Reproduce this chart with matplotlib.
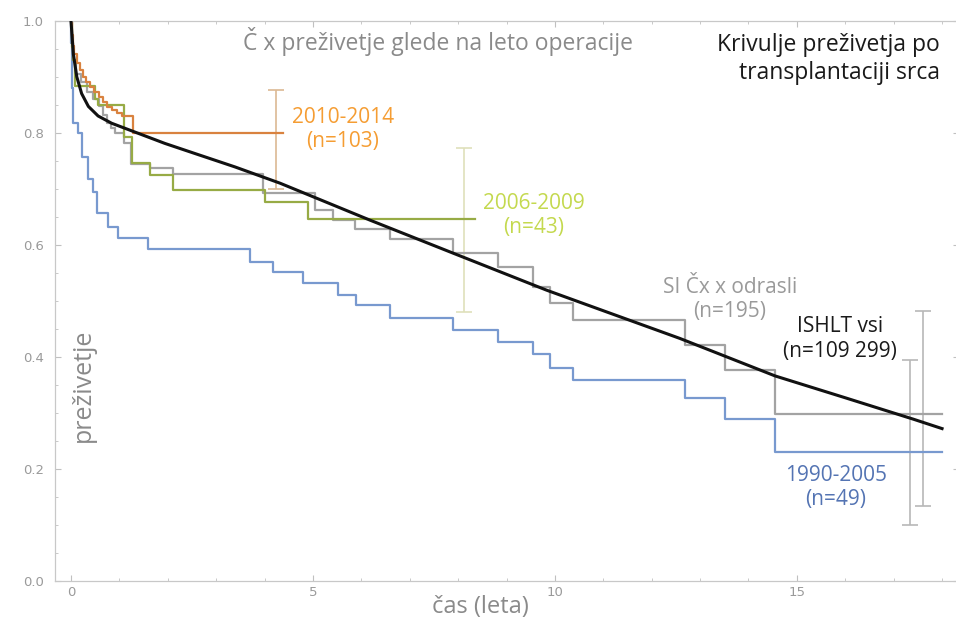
import matplotlib
matplotlib.use("Agg")
import matplotlib.pyplot as plt
from matplotlib.ticker import MultipleLocator

plt.rcParams['font.family'] = ['Open Sans', 'DejaVu Sans']

# ==============================
# Data
# ==============================
# 2010-2014 (n=103)
t_orange = [0, 0.02, 0.04, 0.07, 0.12, 0.18, 0.25, 0.32, 0.40, 0.48, 0.57, 0.66, 0.75, 0.85, 0.95, 1.05, 1.28]
v_orange = [1.0, 0.975, 0.955, 0.94, 0.925, 0.912, 0.90, 0.891, 0.882, 0.873, 0.864, 0.855, 0.846, 0.840, 0.835, 0.83, 0.80]
end_orange = 4.38

# 2006-2009 (n=43)
t_green = [0, 0.02, 0.05, 0.09, 0.50, 0.55, 1.10, 1.26, 1.63, 2.11, 4.01, 4.90]
v_green = [1.0, 0.953, 0.93, 0.884, 0.86, 0.85, 0.793, 0.746, 0.725, 0.698, 0.677, 0.646]
end_green = 8.35

# SI Cx x odrasli (n=195)
t_grey = [0, 0.02, 0.05, 0.10, 0.20, 0.33, 0.45, 0.57, 0.66, 0.74, 0.83, 0.92, 1.09, 1.24, 1.63, 2.11,
          3.97, 5.04, 5.41, 5.87, 6.59, 7.90, 8.83, 9.55, 9.90, 10.38, 12.69, 13.51, 14.55]
v_grey = [1.0, 0.96, 0.93, 0.905, 0.89, 0.873, 0.86, 0.847, 0.832, 0.817, 0.808, 0.799, 0.781, 0.745, 0.737, 0.726,
          0.693, 0.662, 0.644, 0.628, 0.610, 0.585, 0.561, 0.525, 0.496, 0.466, 0.421, 0.376, 0.298]
end_grey = 18.0

# 1990-2005 (n=49)
t_blue = [0, 0.01, 0.02, 0.03, 0.04, 0.05, 0.15, 0.22, 0.36, 0.45, 0.53, 0.77, 0.98, 1.60, 3.70, 4.18,
          4.80, 5.52, 5.89, 6.59, 7.90, 8.83, 9.55, 9.90, 10.38, 12.69, 13.51, 14.55]
v_blue = [1.0, 0.96, 0.92, 0.88, 0.84, 0.817, 0.80, 0.757, 0.717, 0.695, 0.656, 0.632, 0.613, 0.592, 0.570, 0.552,
          0.531, 0.510, 0.493, 0.469, 0.448, 0.427, 0.405, 0.381, 0.359, 0.326, 0.289, 0.231]
end_blue = 18.0

# ISHLT vsi (n=109 299)
t_ishlt = [0, 0.05, 0.12, 0.22, 0.36, 0.56, 0.84, 1.39, 1.94, 2.56, 3.39, 4.32, 6.18, 7.90, 9.83, 11.14,
           12.58, 14.55, 16.0, 17.40, 18.0]
v_ishlt = [1.0, 0.94, 0.90, 0.870, 0.847, 0.830, 0.817, 0.799, 0.781, 0.763, 0.739, 0.710, 0.644, 0.585, 0.519, 0.478,
           0.433, 0.366, 0.327, 0.289, 0.272]

# confidence bars: x, value, lower, upper
bar_t = [4.24, 8.12, 17.33, 17.60]
bar_mid = [0.80, 0.646, 0.231, 0.298]
bar_lo = [0.70, 0.480, 0.100, 0.134]
bar_hi = [0.876, 0.772, 0.394, 0.482]
bar_colors = ['#dcb994', '#dfe0bb', '#b8b8b8', '#b8b8b8']

# ==============================
# Plot
# ==============================
fig = plt.figure(figsize=(9.56, 6.26), dpi=100)
ax = fig.add_axes([55 / 956, 45 / 626, 904 / 956, 560.3 / 626])


def km(t, v, end, color, lw=1.6, z=2):
    ax.step(list(t) + [end], list(v) + [v[-1]], where='post', color=color, lw=lw, zorder=z)


for i in range(len(bar_t)):
    ax.errorbar(bar_t[i], bar_mid[i],
                yerr=[[bar_mid[i] - bar_lo[i]], [bar_hi[i] - bar_mid[i]]],
                fmt='none', ecolor=bar_colors[i], elinewidth=1.2, capsize=6, capthick=1.2, zorder=1)

km(t_blue, v_blue, end_blue, '#7899cf')
km(t_grey, v_grey, end_grey, '#a3a3a3')
km(t_green, v_green, end_green, '#97ab45')
km(t_orange, v_orange, end_orange, '#d9823f')
ax.plot(t_ishlt, v_ishlt, color='#111111', lw=2.2, zorder=5)

ax.set_xlim(-0.33, 18.35)
ax.set_ylim(0, 1.0)
ax.xaxis.set_major_locator(MultipleLocator(5))
ax.xaxis.set_minor_locator(MultipleLocator(1))
ax.yaxis.set_major_locator(MultipleLocator(0.2))
ax.yaxis.set_minor_locator(MultipleLocator(0.05))
ax.yaxis.set_major_formatter(plt.FuncFormatter(lambda v, p: f"{v:.1f}"))
ax.tick_params(which='both', direction='in', top=True, right=True, color='#c0c0c0',
               labelcolor='#9a9a9a', labelsize=9.5)
ax.tick_params(which='major', length=4, width=0.8)
ax.tick_params(which='minor', length=2.5, width=0.6)
ax.tick_params(axis='y', pad=8)
for s in ax.spines.values():
    s.set_color('#c8c8c8')
    s.set_linewidth(0.9)
for lab in ax.get_xticklabels() + ax.get_yticklabels():
    lab.set_family('DejaVu Sans')

# texts
ax.text(7.58, 0.962, "Č x preživetje glede na leto operacije", color='#8a8a8a', fontsize=16.5,
        ha='center', va='center')
ax.text(17.95, 0.932, "Krivulje preživetja po\ntransplantaciji srca", color='#1a1a1a', fontsize=16.5,
        ha='right', va='center', linespacing=1.2)
ax.text(5.62, 0.806, "2010-2014\n(n=103)", color='#f59d33', fontsize=15, ha='center', va='center')
ax.text(9.57, 0.653, "2006-2009\n(n=43)", color='#c4d94f', fontsize=15, ha='center', va='center')
ax.text(13.62, 0.502, "SI Čx x odrasli\n(n=195)", color='#9a9a9a', fontsize=15, ha='center', va='center')
ax.text(15.89, 0.432, "ISHLT vsi\n(n=109 299)", color='#1a1a1a', fontsize=15, ha='center', va='center')
ax.text(15.8, 0.167, "1990-2005\n(n=49)", color='#5474b3', fontsize=15, ha='center', va='center')
ax.text(0.25, 0.35, "preživetje", color='#8a8a8a', fontsize=18, rotation=90, ha='center', va='center')
fig.text(480 / 956, 1 - 607 / 626, "čas (leta)", color='#8a8a8a', fontsize=17, ha='center', va='center')

fig.savefig("out.png", dpi=100)
